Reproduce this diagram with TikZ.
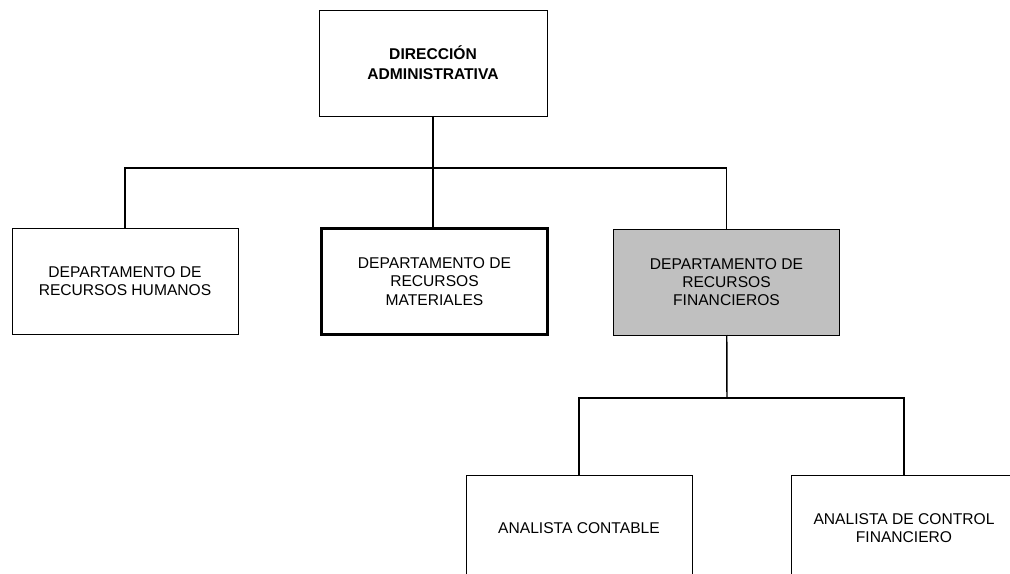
\documentclass[tikz,border=0pt]{standalone}
\usepackage{fontspec}
\setmainfont{Liberation Sans}
\usepackage{tikz}
\newcommand{\textoorg}{\fontsize{11.7}{13.6}\selectfont}
\tikzstyle{unidad}=[draw, line width=0.6pt, inner sep=0, outer sep=0, align=center,
                    minimum width=226*0.75pt, minimum height=106*0.75pt, font=\textoorg]
\tikzstyle{unidadgruesa}=[unidad, line width=1.6pt]
\tikzstyle{unidadgris}=[unidad, fill={rgb,255:red,192;green,192;blue,192}]
% lineas de enlace entre unidades
\tikzstyle{enlace}=[draw, line width=1.1pt]
\tikzstyle{organigrama}=[x=0.75pt, y=-0.75pt]

\begin{document}
\begin{tikzpicture}[organigrama]
        \useasboundingbox (0, 0) rectangle (1010, 574);
        \clip (0, 0) rectangle (1010, 574);
        \node[unidad, minimum width=228*0.75pt, font=\textoorg\bfseries\linespread{1.12}\selectfont] (dir) at (433, 63) {DIRECCIÓN\\ADMINISTRATIVA};
        \node[unidad]       (rh) at (125, 281.5)   {DEPARTAMENTO DE\\RECURSOS HUMANOS};
        \node[unidadgruesa] (rm) at (434.5, 281.5) {DEPARTAMENTO DE\\RECURSOS\\MATERIALES};
        \node[unidadgris]   (rf) at (726.5, 282)   {DEPARTAMENTO DE\\RECURSOS\\FINANCIEROS};
        \node[unidad]       (ac)  at (579, 528)    {ANALISTA CONTABLE};
        \node[unidad]       (acf) at (904, 528)    {ANALISTA DE CONTROL\\FINANCIERO};
        \coordinate (bus1) at (433, 168);
        \coordinate (bus2) at (727, 398);
        \path[enlace] (dir) -- (bus1);
        \path[enlace] (rh.north) |- (bus1) -| (rf.north);
        \path[enlace] (bus1) -- (bus1 |- rm.north);
        \path[enlace] (rf) -- (bus2);
        \path[enlace] (ac.north) |- (bus2) -| (acf.north);
    \end{tikzpicture}
\end{document}
